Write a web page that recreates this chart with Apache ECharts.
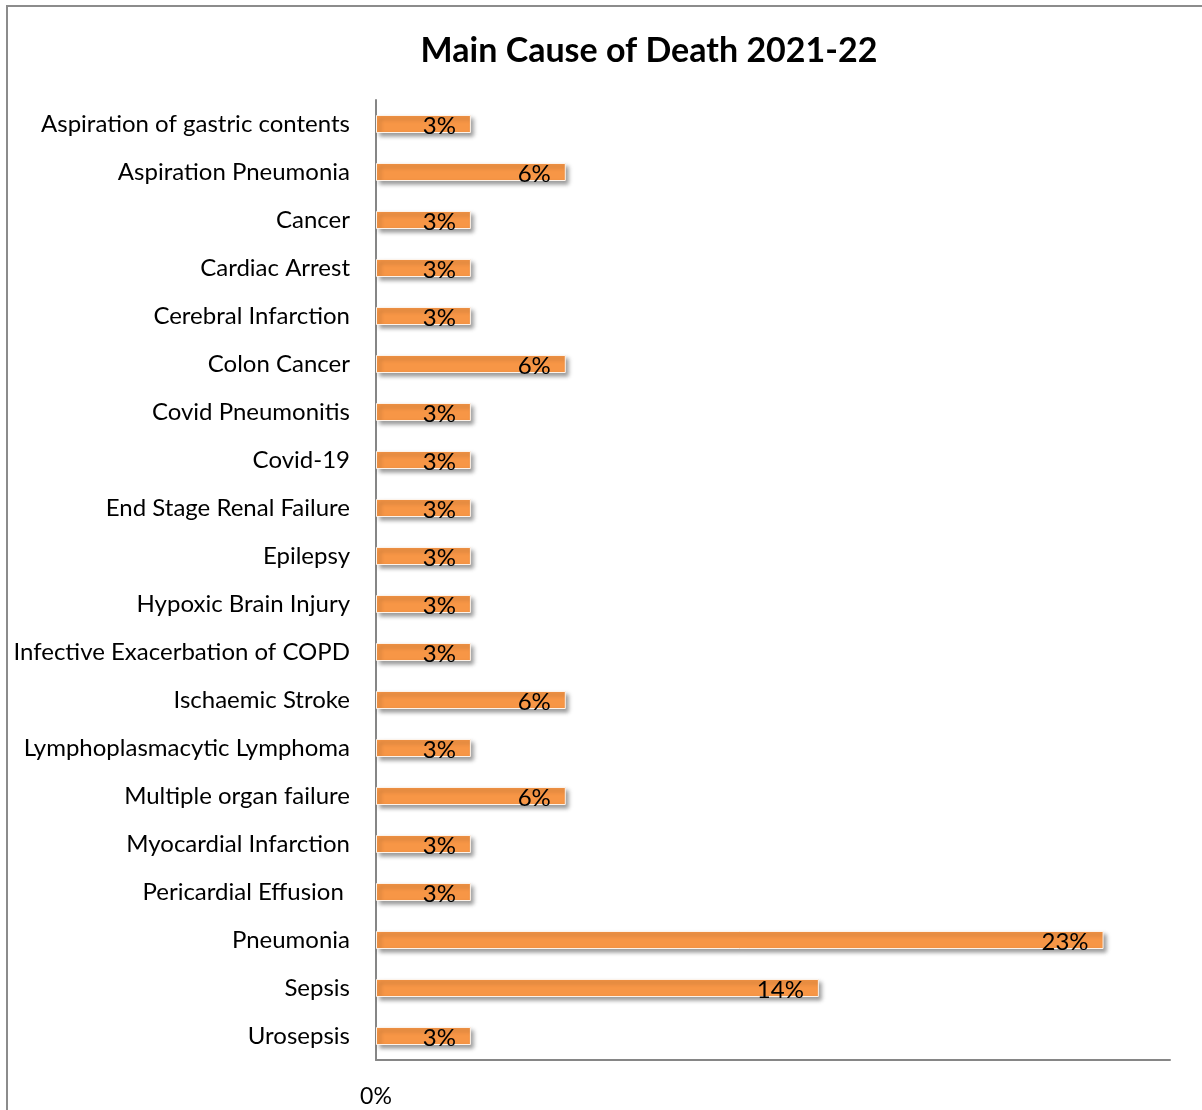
<!DOCTYPE html>
<html>
<head>
<meta charset="utf-8">
<title>Main Cause of Death 2021-22</title>
<script src="https://cdn.jsdelivr.net/npm/echarts@6/dist/echarts.min.js"></script>
<style>
  html, body { margin: 0; padding: 0; background: #fff; }
  #chart { width: 1202px; height: 1110px; }
</style>
</head>
<body>
<div id="chart"></div>
<script>
// Causes of death, listed top to bottom
const causes = [
  'Aspiration of gastric contents',
  'Aspiration Pneumonia',
  'Cancer',
  'Cardiac Arrest',
  'Cerebral Infarction',
  'Colon Cancer',
  'Covid Pneumonitis',
  'Covid-19',
  'End Stage Renal Failure',
  'Epilepsy',
  'Hypoxic Brain Injury',
  'Infective Exacerbation of COPD',
  'Ischaemic Stroke',
  'Lymphoplasmacytic Lymphoma',
  'Multiple organ failure',
  'Myocardial Infarction',
  'Pericardial Effusion ',
  'Pneumonia',
  'Sepsis',
  'Urosepsis'
];

// Share of deaths per cause, in percent
const sharePct = [3, 6, 3, 3, 3, 6, 3, 3, 3, 3, 3, 3, 6, 3, 6, 3, 3, 23, 14, 3];

// Value-axis tick labels that are shown
const xTickLabels = ['0%'];

const FONT = 'Lato, "Open Sans", sans-serif';

const chart = echarts.init(document.getElementById('chart'), null, { renderer: 'canvas' });

chart.setOption({
  backgroundColor: '#ffffff',
  animation: false,
  title: {
    text: 'Main Cause of Death 2021-22',
    left: 644,
    textAlign: 'center',
    top: 29,
    textStyle: { fontFamily: FONT, fontWeight: 'bold', fontSize: 34, color: '#000' }
  },
  graphic: [
    {
      type: 'polyline',
      silent: true,
      shape: { points: [[7, 1110], [7, 6], [1202, 6]] },
      style: { stroke: '#8c8c8c', lineWidth: 2, fill: null }
    }
  ],
  grid: { left: 376, right: 32, top: 100, bottom: 50, containLabel: false },
  xAxis: {
    type: 'value',
    min: 0,
    max: 25.1,
    interval: 25.1,
    splitLine: { show: false },
    axisTick: { show: false },
    axisLine: { show: true, lineStyle: { color: '#868686', width: 2 } },
    axisLabel: {
      margin: 25,
      fontFamily: FONT,
      fontSize: 23,
      color: '#000',
      formatter: v => (v === 0 ? xTickLabels[0] : '')
    }
  },
  yAxis: {
    type: 'category',
    data: causes,
    inverse: true,
    axisTick: { show: false },
    axisLine: { show: true, lineStyle: { color: '#868686', width: 2 } },
    axisLabel: { margin: 26, fontFamily: FONT, fontSize: 24, color: '#000' }
  },
  series: [
    {
      type: 'bar',
      data: sharePct,
      barWidth: 18,
      itemStyle: {
        color: '#F79646',
        borderColor: '#fdf3ea',
        borderWidth: 1,
        shadowColor: 'rgba(0,0,0,0.38)',
        shadowBlur: 4,
        shadowOffsetX: 3,
        shadowOffsetY: 3
      },
      label: {
        show: true,
        position: 'insideRight',
        distance: 15,
        offset: [0, 2],
        fontFamily: FONT,
        fontSize: 24,
        color: '#000',
        formatter: p => p.value + '%'
      }
    }
  ]
});
</script>
</body>
</html>
